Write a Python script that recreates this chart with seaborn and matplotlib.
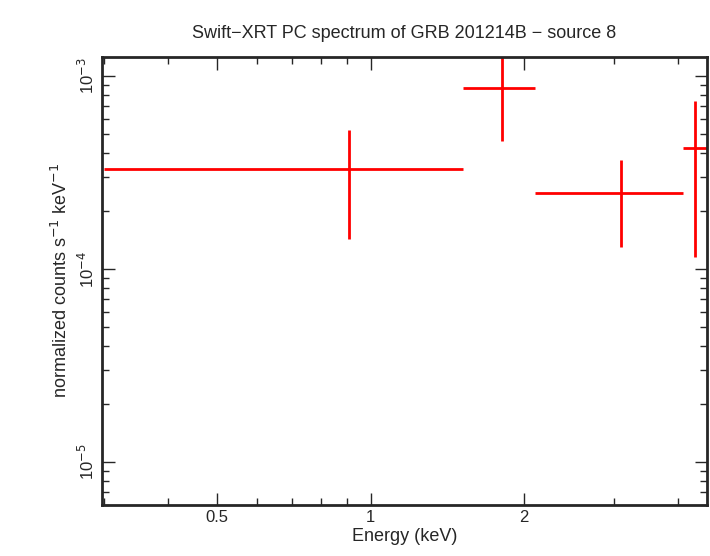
import numpy as np
import matplotlib
matplotlib.use("Agg")
import matplotlib.pyplot as plt
import seaborn as sns

sns.set_style("ticks")
plt.rcParams["font.family"] = "Liberation Sans"

energy = [0.905, 1.807, 3.09, 4.32]
e_lo = [0.30, 1.514, 2.097, 4.09]
e_hi = [1.514, 2.097, 4.09, 4.80]
flux = [3.30e-4, 8.67e-4, 2.48e-4, 4.23e-4]
flux_hi = [5.25e-4, 1.40e-3, 3.67e-4, 7.42e-4]
flux_lo = [1.43e-4, 4.60e-4, 1.30e-4, 1.15e-4]

energy = np.array(energy)
flux = np.array(flux)
xerr = [energy - np.array(e_lo), np.array(e_hi) - energy]
yerr = [flux - np.array(flux_lo), np.array(flux_hi) - flux]

fig = plt.figure(figsize=(7.10, 5.56), dpi=100)
ax = fig.add_axes([102 / 710, 51 / 556, 605 / 710, 448 / 556])
ax.errorbar(energy, flux, xerr=xerr, yerr=yerr, fmt="none", ecolor="red",
            elinewidth=2, capsize=0)
ax.set_xscale("log")
ax.set_yscale("log")
ax.set_xlim(0.2976, 4.56)
ax.set_ylim(5.99e-6, 1.254e-3)
ax.set_xticks([0.5, 1, 2])
ax.set_xticklabels(["0.5", "1", "2"])
ax.set_yticks([1e-5, 1e-4, 1e-3])
ax.set_yticklabels(["10$^{-5}$", "10$^{-4}$", "10$^{-3}$"], rotation=90, va="center")
ax.tick_params(which="both", direction="in", top=True, right=True, labelsize=12)
ax.tick_params(which="major", length=9, width=1)
ax.tick_params(which="minor", length=5, width=1)
ax.xaxis.set_minor_formatter(matplotlib.ticker.NullFormatter())
for s in ax.spines.values():
    s.set_linewidth(2)
ax.set_xlabel("Energy (keV)", fontsize=13, labelpad=2)
ax.set_ylabel("normalized counts s$^{-1}$ keV$^{-1}$", fontsize=13)
ax.set_title("Swift\u2212XRT PC spectrum of GRB 201214B \u2212 source 8", fontsize=13, pad=14)
fig.savefig("out.png", dpi=100)
